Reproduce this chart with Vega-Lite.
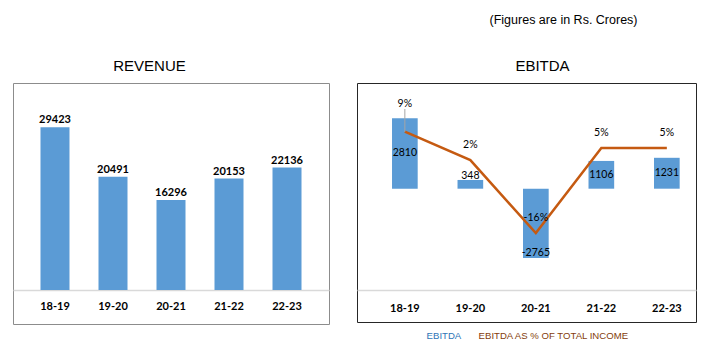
{
  "$schema": "https://vega.github.io/schema/vega-lite/v6.json",
  "background": "white",
  "padding": {"left": 12, "top": 14, "right": 0, "bottom": 0},
  "title": {"text": "(Figures are in Rs. Crores)", "anchor": "end", "dx": -59, "offset": 32, "font": "Liberation Sans", "fontSize": 12.5, "fontWeight": "normal", "color": "#000000"},
  "datasets": {
    "fin": [
      {"year": "18-19", "revenue": 29423, "ebitda": 2810, "pct": 9},
      {"year": "19-20", "revenue": 20491, "ebitda": 348, "pct": 2},
      {"year": "20-21", "revenue": 16296, "ebitda": -2765, "pct": -16},
      {"year": "21-22", "revenue": 20153, "ebitda": 1106, "pct": 5},
      {"year": "22-23", "revenue": 22136, "ebitda": 1231, "pct": 5}
    ]
  },
  "spacing": 26,
  "resolve": {"legend": {"color": "independent"}},
  "hconcat": [
    {
      "width": 316,
      "height": 241,
      "view": {"stroke": "#8c8c8c", "strokeWidth": 1},
      "title": {"text": "REVENUE", "dx": -21.5, "offset": 9, "font": "Liberation Sans", "fontSize": 15, "fontWeight": "normal", "color": "#000000"},
      "data": {"name": "fin"},
      "transform": [{"calculate": "'' + datum.revenue", "as": "rlab"}],
      "encoding": {
        "x": {
          "field": "year", "type": "nominal", "sort": null,
          "scale": {"paddingInner": 0.5, "paddingOuter": 0.474, "align": 0.5},
          "axis": {"title": null, "orient": "bottom", "offset": -34, "domainColor": "#D9D9D9", "domainWidth": 1.5, "ticks": false, "labelPadding": 10, "labelFont": "Lato", "labelFontSize": 11, "labelFontWeight": "bold", "labelColor": "#000000", "labelAngle": 0, "grid": false}
        }
      },
      "layer": [
        {
          "mark": {"type": "bar", "color": "#5B9BD5"},
          "encoding": {"y": {"field": "revenue", "type": "quantitative", "scale": {"domain": [-6148, 37432], "nice": false, "zero": false}, "axis": null}}
        },
        {
          "mark": {"type": "text", "font": "Lato", "fontWeight": "bold", "fontSize": 11, "dy": -7, "color": "#000000"},
          "encoding": {"y": {"field": "revenue", "type": "quantitative"}, "text": {"field": "rlab"}}
        }
      ]
    },
    {
      "width": 339,
      "height": 239,
      "view": {"stroke": "#262626", "strokeWidth": 1},
      "title": {"text": "EBITDA", "dx": 16, "offset": 9, "font": "Liberation Sans", "fontSize": 15, "fontWeight": "normal", "color": "#000000"},
      "data": {"name": "fin"},
      "transform": [
        {"calculate": "datum.ebitda / 2", "as": "mid"},
        {"calculate": "'' + datum.ebitda", "as": "elab"},
        {"calculate": "'' + datum.pct + '%'", "as": "plab"}
      ],
      "encoding": {
        "x": {
          "field": "year", "type": "nominal", "sort": null,
          "scale": {"paddingInner": 0.608, "paddingOuter": 0.392, "align": 0.682},
          "axis": {"title": null, "orient": "bottom", "offset": -32, "domainColor": "#D9D9D9", "domainWidth": 1.5, "ticks": false, "labelPadding": 12, "labelFont": "Lato", "labelFontSize": 11, "labelFontWeight": "bold", "labelColor": "#000000", "labelAngle": 0, "grid": false}
        }
      },
      "layer": [
        {
          "mark": {"type": "bar"},
          "encoding": {
            "y": {"field": "ebitda", "type": "quantitative", "scale": {"domain": [-5311, 4211], "nice": false, "zero": false}, "axis": null},
            "color": {
              "datum": "EBITDA",
              "scale": {"domain": ["EBITDA", "EBITDA AS % OF TOTAL INCOME"], "range": ["#5B9BD5", "#C55A11"]},
              "legend": {
                "orient": "none", "legendX": 60, "legendY": 248, "direction": "horizontal", "title": null,
                "symbolSize": 0, "symbolOpacity": 0, "symbolStrokeWidth": 0, "labelOffset": 0, "columnPadding": 7,
                "labelFont": "Liberation Sans", "labelFontSize": 9.6,
                "encode": {"labels": {"update": {"fill": {"signal": "datum.label == 'EBITDA' ? '#2E75B6' : '#843C0C'"}}}}
              }
            }
          }
        },
        {
          "mark": {"type": "line", "strokeWidth": 2.5},
          "encoding": {
            "y": {"field": "pct", "type": "quantitative", "scale": {"domain": [-37.9, 21], "nice": false, "zero": false}, "axis": null},
            "color": {"datum": "EBITDA AS % OF TOTAL INCOME"}
          }
        },
        {
          "transform": [{"filter": "datum.year == '18-19'"}],
          "mark": {"type": "rule", "color": "#A6A6A6", "strokeWidth": 1},
          "encoding": {
            "y": {"field": "pct", "type": "quantitative", "scale": {"domain": [-37.9, 21], "nice": false, "zero": false}, "axis": null},
            "y2": {"datum": 14.6}
          }
        },
        {
          "transform": [{"filter": "datum.ebitda > 500"}],
          "mark": {"type": "text", "font": "Lato", "fontSize": 10.5, "color": "#000000"},
          "encoding": {
            "y": {"field": "mid", "type": "quantitative", "scale": {"domain": [-5311, 4211], "nice": false, "zero": false}, "axis": null},
            "text": {"field": "elab"}
          }
        },
        {
          "transform": [{"filter": "datum.ebitda > 0 && datum.ebitda <= 500"}],
          "mark": {"type": "text", "font": "Lato", "fontSize": 10.5, "color": "#000000", "dy": -3.5},
          "encoding": {
            "y": {"field": "ebitda", "type": "quantitative", "scale": {"domain": [-5311, 4211], "nice": false, "zero": false}, "axis": null},
            "text": {"field": "elab"}
          }
        },
        {
          "transform": [{"filter": "datum.ebitda < 0"}],
          "mark": {"type": "text", "font": "Lato", "fontSize": 10.5, "color": "#000000", "dy": -5},
          "encoding": {
            "y": {"field": "ebitda", "type": "quantitative", "scale": {"domain": [-5311, 4211], "nice": false, "zero": false}, "axis": null},
            "text": {"field": "elab"}
          }
        },
        {
          "transform": [{"filter": "datum.year != '18-19'"}],
          "mark": {"type": "text", "font": "Lato", "fontSize": 10.5, "color": "#000000", "dy": -15},
          "encoding": {
            "y": {"field": "pct", "type": "quantitative", "scale": {"domain": [-37.9, 21], "nice": false, "zero": false}, "axis": null},
            "text": {"field": "plab"}
          }
        },
        {
          "transform": [{"filter": "datum.year == '18-19'"}],
          "mark": {"type": "text", "font": "Lato", "fontSize": 10.5, "color": "#000000", "dy": -27.5},
          "encoding": {
            "y": {"field": "pct", "type": "quantitative", "scale": {"domain": [-37.9, 21], "nice": false, "zero": false}, "axis": null},
            "text": {"field": "plab"}
          }
        }
      ],
      "resolve": {"scale": {"y": "independent"}}
    }
  ],
  "config": {
    "view": {"stroke": null},
    "axis": {"grid": false}
  }
}
